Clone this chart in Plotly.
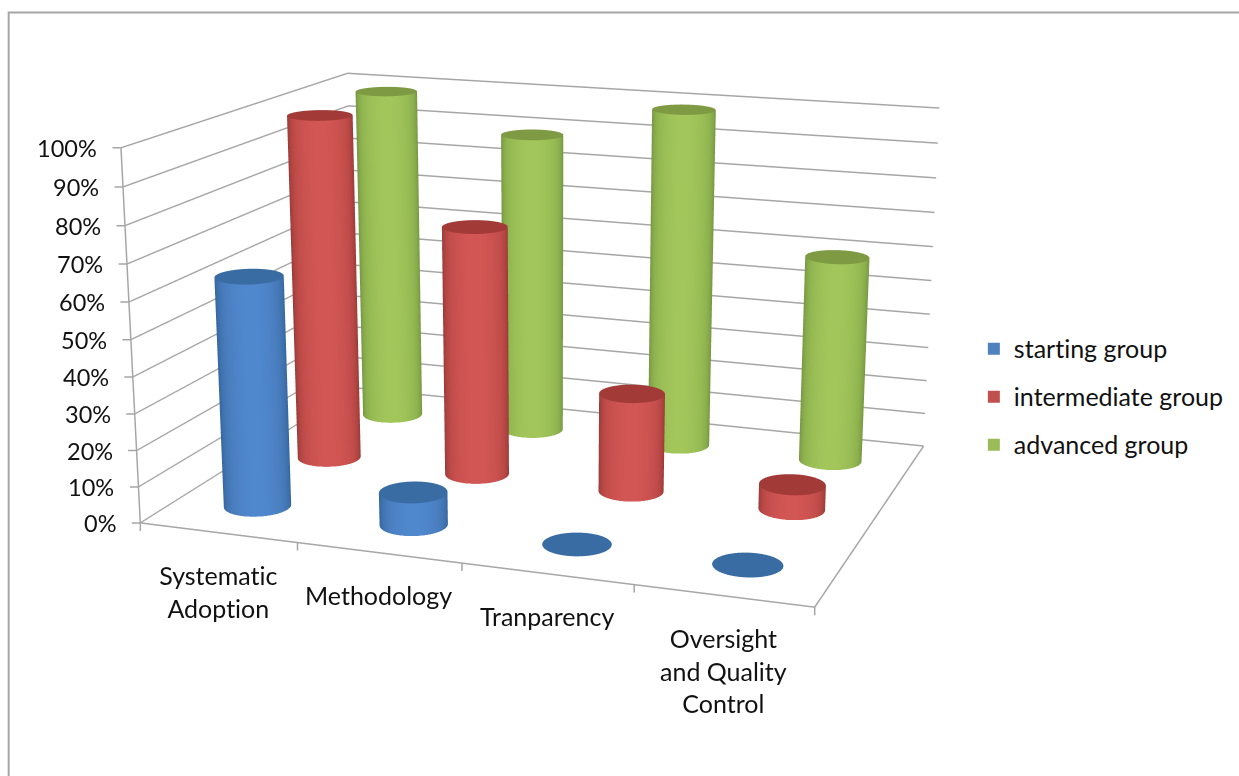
import numpy as np
import plotly.graph_objects as go

categories = ["Systematic<br>Adoption", "Methodology", "Tranparency", "Oversight<br>and Quality<br>Control"]
series_names = ["starting group", "intermediate group", "advanced group"]
starting_group = [63.5, 9, 0, 0]
intermediate_group = [99, 71, 28, 7]
advanced_group = [99, 89, 99, 60]
tick_values = list(range(0, 101, 10))
tick_labels = [f"{v}%" for v in tick_values]
category_edges = [0, 1, 2, 3, 4]

side_edge = ["#2F5F96", "#8E3532", "#6F8C3C"]
side_base = ["#4679B8", "#BE4B48", "#90B550"]
side_mid = ["#5088CE", "#D25654", "#A2C65A"]
cap_colors = ["#386CA3", "#A23A37", "#7E9B43"]
legend_colors = ["#4F81BD", "#C0504D", "#9BBB59"]
GRID = "#A6A6A6"
TEXT = "#111111"

# Scene camera: a long lens, slightly rolled, looking down at the floor from the front right
EYE = (2.2863, -6.3884, 1.7107)
CENTER = (0.2112, -0.0005, -0.2278)
UP = (-0.0939, 0.261, 0.9608)
ASPECT = (2.0066, 1.5021, 1.1)
FOCAL_PX = 2327.9
FOV = 2 * np.arctan(388 / FOCAL_PX)
RADIUS = 0.197
FLAT = dict(ambient=1, diffuse=0, specular=0, roughness=1, fresnel=0)

fig = go.Figure()


def add_cylinder(x0, y0, height, idx):
    theta = np.linspace(0, 2 * np.pi, 145)
    if height > 0:
        # side wall is brightest on the part facing the viewer
        T, Z = np.meshgrid(theta, np.array([0.0, height]))
        to_eye = np.arctan2(EYE[1] - (y0 / 3 - 0.5) * ASPECT[1], EYE[0] - (x0 / 4 - 0.5) * ASPECT[0])
        scale = [[0, side_edge[idx]], [0.5, side_edge[idx]], [0.8, side_base[idx]], [1, side_mid[idx]]]
        fig.add_trace(go.Surface(x=x0 + RADIUS * np.cos(T), y=y0 + RADIUS * np.sin(T), z=Z,
                                 surfacecolor=np.cos(T - to_eye), colorscale=scale, cmin=-1, cmax=1,
                                 showscale=False, showlegend=False, hoverinfo="skip", lighting=FLAT))
    rad, T2 = np.meshgrid(np.array([0, RADIUS]), theta)
    fig.add_trace(go.Surface(x=x0 + rad * np.cos(T2), y=y0 + rad * np.sin(T2), z=np.full_like(rad, height),
                             surfacecolor=np.zeros_like(rad), colorscale=[[0, cap_colors[idx]], [1, cap_colors[idx]]],
                             showscale=False, showlegend=False, hoverinfo="skip", lighting=FLAT))


for s_idx, vals in enumerate([starting_group, intermediate_group, advanced_group]):
    for c_idx, v in enumerate(vals):
        add_cylinder(c_idx + 0.5, s_idx + 0.5, v, s_idx)
    fig.add_trace(go.Scatter3d(x=[None], y=[None], z=[None], mode="markers", name=series_names[s_idx],
                               legendgroup=series_names[s_idx],
                               marker=dict(symbol="square", size=16, color=legend_colors[s_idx])))

# Front and right edges of the floor
fig.add_trace(go.Scatter3d(x=[0, 4, 4], y=[0, 0, 3], z=[0, 0, 0], mode="lines",
                           line=dict(color=GRID, width=3), showlegend=False, hoverinfo="skip"))

tick_mark = dict(text=" ", font=dict(size=1), showarrow=True, arrowhead=0, arrowwidth=1.5,
                 arrowcolor=GRID, standoff=0, borderpad=0)
annots = [dict(x=i + 0.5, y=0, z=0, text=t, showarrow=False, yanchor="top", xanchor="center", yshift=-25,
               font=dict(family="Lato", size=25, color=TEXT)) for i, t in enumerate(categories)]
annots += [dict(x=0, y=0, z=v, text=t, showarrow=False, xanchor="right", yanchor="middle", xshift=-22,
                font=dict(family="Lato", size=23.5, color=TEXT)) for v, t in zip(tick_values, tick_labels)]
annots += [dict(tick_mark, x=e, y=0, z=0, ax=0, ay=9) for e in category_edges]
annots += [dict(tick_mark, x=0, y=0, z=v, ax=-9, ay=0) for v in tick_values]

axis_common = dict(showbackground=False, showspikes=False, title="", zeroline=False, showticklabels=False, ticks="")
fig.update_layout(
    width=1239, height=776, margin=dict(l=0, r=0, t=0, b=0), paper_bgcolor="white",
    font=dict(family="Lato", size=25, color=TEXT),
    legend=dict(x=0.786, y=0.4885, xanchor="left", yanchor="middle", itemsizing="constant", tracegroupgap=12.5),
    scene=dict(
        domain=dict(x=[0, 1], y=[0, 1]),
        xaxis=dict(axis_common, range=[0, 4], showgrid=False),
        yaxis=dict(axis_common, range=[0, 3], showgrid=False),
        zaxis=dict(axis_common, range=[0, 100], tickvals=tick_values, showgrid=True, gridcolor=GRID, gridwidth=3,
                   showline=True, linecolor=GRID, linewidth=3),
        aspectmode="manual", aspectratio=dict(zip("xyz", ASPECT)),
        camera=dict(eye=dict(zip("xyz", EYE)), center=dict(zip("xyz", CENTER)), up=dict(zip("xyz", UP)),
                    projection=dict(type="perspective")),
        annotations=annots,
    ),
    shapes=[dict(type="rect", xref="paper", yref="paper", x0=0.007, x1=1.01, y0=-0.02, y1=0.984,
                 line=dict(color=GRID, width=2))],
)

# plotly has no layout option for the 3D field of view, so set it on the scene once it exists;
# the style rule turns off the Lato "ti" ligature in the labels
post = """
var st = document.createElement('style');
st.textContent = 'svg text, svg tspan { font-variant-ligatures: none !important; font-feature-settings: "liga" 0, "clig" 0 !important; }';
document.head.appendChild(st);
var gd = document.getElementById('{plot_id}');
(function narrowFov() {
  var sc = gd._fullLayout && gd._fullLayout.scene && gd._fullLayout.scene._scene;
  if (sc && sc.glplot) { sc.glplot.fovy = %f; sc.glplot.redraw(); }
  else { requestAnimationFrame(narrowFov); }
})();
""" % FOV
fig.write_html("out.html", post_script=post)
